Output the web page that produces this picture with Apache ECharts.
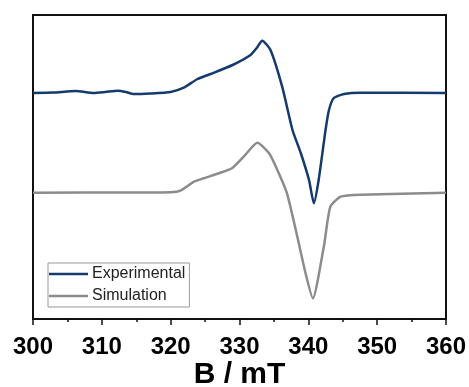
<!DOCTYPE html>
<html>
<head>
<meta charset="utf-8">
<script src="https://cdn.jsdelivr.net/npm/echarts@6/dist/echarts.min.js"></script>
<style>
html, body { margin: 0; padding: 0; background: #fff; }
#chart { width: 469px; height: 387px; }
</style>
</head>
<body>
<div id="chart"></div>
<script>
// field B (mT) vs signal (arb. units)
const expB = [300, 303, 306.2, 308.8, 310.5, 312.3, 313.5, 314.6, 317, 320, 321.9, 323.9, 325.8, 329, 331.6, 332.5, 333.3, 334.5, 336.2, 337.7, 338.9, 340.1, 340.8, 341.5, 342.5, 343.0, 343.7, 345.2, 347.6, 360]
const expI = [226, 226.5, 228, 226, 227, 228.3, 227, 225, 225.5, 227, 231.3, 240, 245, 254, 264, 271, 278.3, 269, 232.3, 189, 166, 139, 115.7, 139, 189, 209, 221, 225, 226.3, 226]
const simB = [300, 315, 320, 321.4, 323.4, 324.8, 327.0, 328.9, 330.6, 332.6, 334.3, 335.5, 336.9, 338.4, 339.6, 340.65, 342.25, 343.2, 344.7, 347.6, 360]
const simI = [126.3, 126.5, 126.7, 128.3, 137.3, 140.7, 145.7, 150.7, 162.3, 176.3, 165.7, 149, 125.7, 82.3, 45.7, 20.7, 72.3, 112.3, 122.3, 124.3, 126.3]
const xTicks = [300, 310, 320, 330, 340, 350, 360]

const pair = (xs, ys) => xs.map((x, i) => [x, ys[i]])
const font = 'Liberation Sans, Arial'

const myChart = echarts.init(document.getElementById('chart'))
const option = {
	animation: false,
	grid: { left: 33, right: 23, top: 15, bottom: 68, show: true, borderColor: '#111', borderWidth: 2,
		containLabel: false, outerBoundsMode: 'none' },
	legend: {
		orient: 'vertical',
		left: 48, top: 263,
		borderColor: '#999', borderWidth: 1,
		padding: [3, 4, 3, 1],
		itemGap: 6,
		itemWidth: 39, itemHeight: 2.5,
		textStyle: { fontFamily: font, fontSize: 16, color: '#222', padding: [0, 0, 0, -1], lineHeight: 14 },
		data: [{ name: 'Experimental', icon: 'rect' }, { name: 'Simulation', icon: 'rect' }]
	},
	xAxis: {
		type: 'value',
		min: xTicks[0], max: xTicks[xTicks.length - 1], interval: 10,
		name: 'B / mT', nameLocation: 'middle', nameGap: 41, nameMoveOverlap: false,
		nameTextStyle: { fontFamily: font, fontWeight: 'bold', fontSize: 30, color: '#000' },
		axisLine: { show: true, lineStyle: { color: '#111', width: 2 } },
		axisTick: { show: true, length: 6, lineStyle: { color: '#111', width: 1.5 } },
		minorTick: { show: true, splitNumber: 2, length: 3, lineStyle: { color: '#111', width: 1.5 } },
		axisLabel: { margin: 16, fontFamily: font, fontWeight: 'bold', fontSize: 24, color: '#000' },
		splitLine: { show: false }
	},
	yAxis: {
		type: 'value', min: 0, max: 304,
		axisLine: { show: true, lineStyle: { color: '#111', width: 2 } },
		axisTick: { show: false }, axisLabel: { show: false }, splitLine: { show: false }
	},
	series: [
		{ name: 'Experimental', type: 'line', data: pair(expB, expI), symbol: 'none', smooth: 0.2,
		  lineStyle: { color: '#143a6e', width: 2.5 }, itemStyle: { color: '#143a6e' } },
		{ name: 'Simulation', type: 'line', data: pair(simB, simI), symbol: 'none', smooth: 0.2,
		  lineStyle: { color: '#8c8c8c', width: 2.5 }, itemStyle: { color: '#8c8c8c' } }
	]
}
myChart.setOption(option)
</script>
</body>
</html>
